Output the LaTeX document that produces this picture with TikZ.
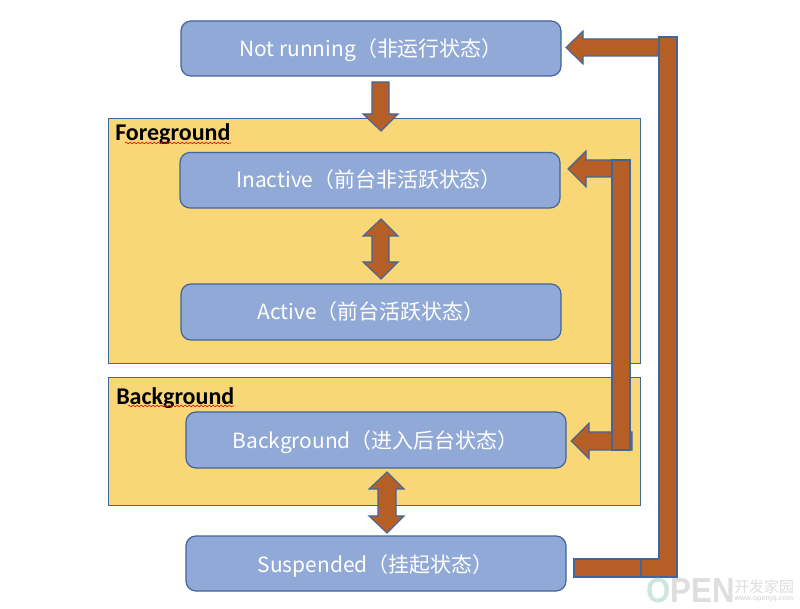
\documentclass[tikz,border=0pt]{standalone}
\usepackage{fontspec}
\setmainfont{Noto Sans CJK SC}
\newfontfamily\latinbold{Carlito}[BoldFont={Carlito Bold}]
\newfontfamily\wmfont{Liberation Sans}
\usetikzlibrary{decorations.pathmorphing}
\definecolor{edgeblue}{HTML}{41659C}
\definecolor{boxblue}{HTML}{91A9D6}
\definecolor{panelyellow}{HTML}{F9D676}
\definecolor{arrowbrown}{HTML}{B55F26}
\definecolor{markgreen}{HTML}{CFE6DD}
\definecolor{markgrey}{HTML}{DEDEDE}
\tikzset{
  statebox/.style={draw=edgeblue,fill=boxblue,line width=0.9pt,rounded corners=7.5pt},
  statelabel/.style={text=white,font=\fontsize{15.7}{18}\selectfont,inner sep=0pt},
  panel/.style={draw=edgeblue,fill=panelyellow,line width=0.7pt},
  panellabel/.style={font=\latinbold\bfseries\fontsize{18}{20}\selectfont,anchor=west,inner sep=0pt},
  arrowshape/.style={draw=edgeblue,fill=arrowbrown,line width=0.8pt,line join=miter},
  squiggle/.style={draw=red!85!black,line width=0.4pt,decorate,decoration={snake,amplitude=0.55pt,segment length=3pt}}
}
\begin{document}
\begin{tikzpicture}[x=0.75pt,y=-0.75pt]
\useasboundingbox (0,0) rectangle (800,609);
\fill[white] (0,0) rectangle (800,609);

% Lifecycle groups
\draw[panel] (108.5,118.5) rectangle (640,363);
\draw[panel] (108.5,377) rectangle (640,505);
\node[panellabel] (fg) at (115,134) {Foreground};
\node[panellabel] (bg) at (116,398) {Background};
\draw[squiggle] (125,143) -- (231,143);
\draw[squiggle] (128,406) -- (234,406);

% Transitions between neighbouring states
\draw[arrowshape] (372,82) -- (389,82) -- (389,114) -- (398,114) -- (381,131) -- (363,114) -- (372,114) -- cycle;
\draw[arrowshape] (381,219) -- (398,236) -- (389,236) -- (389,262) -- (398,262) -- (381,279) -- (363,262) -- (372,262) -- (372,236) -- (363,236) -- cycle;
\draw[arrowshape] (387,472) -- (404,489) -- (396,489) -- (396,516) -- (404,516) -- (387,533) -- (369,516) -- (378,516) -- (378,489) -- (369,489) -- cycle;

% States
\draw[statebox] (181,21) rectangle (561,76);
\node[statelabel] (notrunning) at (371,50) {Not running（非运行状态）};
\draw[statebox] (180,152.5) rectangle (560,208);
\node[statelabel] (inactive) at (369,180) {Inactive（前台非活跃状态）};
\draw[statebox] (181,284) rectangle (561,340);
\node[statelabel] (active) at (371,312) {Active（前台活跃状态）};
\draw[statebox] (186,412) rectangle (566,468);
\node[statelabel] (background) at (375.5,442) {Background（进入后台状态）};
\draw[statebox] (186,536) rectangle (566,591);
\node[statelabel] (suspended) at (375.5,566) {Suspended（挂起状态）};

% Return path from Suspended to Not running
\draw[arrowshape] (658.5,39) -- (583,39) -- (583,31) -- (566,47.5) -- (583,64) -- (583,56) -- (658.5,56) -- cycle;
\draw[arrowshape] (574,559) rectangle (641,577);
\draw[arrowshape] (641,559) -- (659,559) -- (659,37) -- (677,37) -- (677,577) -- (641,577) -- cycle;

% Path between Inactive and Background
\draw[arrowshape] (612,160) -- (586,160) -- (586,151) -- (568,169) -- (586,187) -- (586,177) -- (612,177) -- cycle;
\draw[arrowshape] (632,432) -- (589,432) -- (589,423) -- (571,441) -- (589,459) -- (589,450) -- (632,450) -- cycle;
\draw[arrowshape] (612,160) rectangle (630,450);

% Publisher mark
\node[inner sep=0pt,anchor=west,text=markgrey,xscale=0.9] (mark) at (646,591) {\wmfont\bfseries\fontsize{26}{26}\selectfont\textcolor{markgreen}{O}PEN};
\node[inner sep=0pt,anchor=west,text=markgrey] (markcn) at (734,586.5) {\fontsize{11.2}{12}\selectfont 开发家园};
\node[inner sep=0pt,anchor=west,text=markgrey] (markurl) at (734,598.5) {\wmfont\bfseries\fontsize{5.4}{6}\selectfont www.openjq.com};
\end{tikzpicture}
\end{document}
